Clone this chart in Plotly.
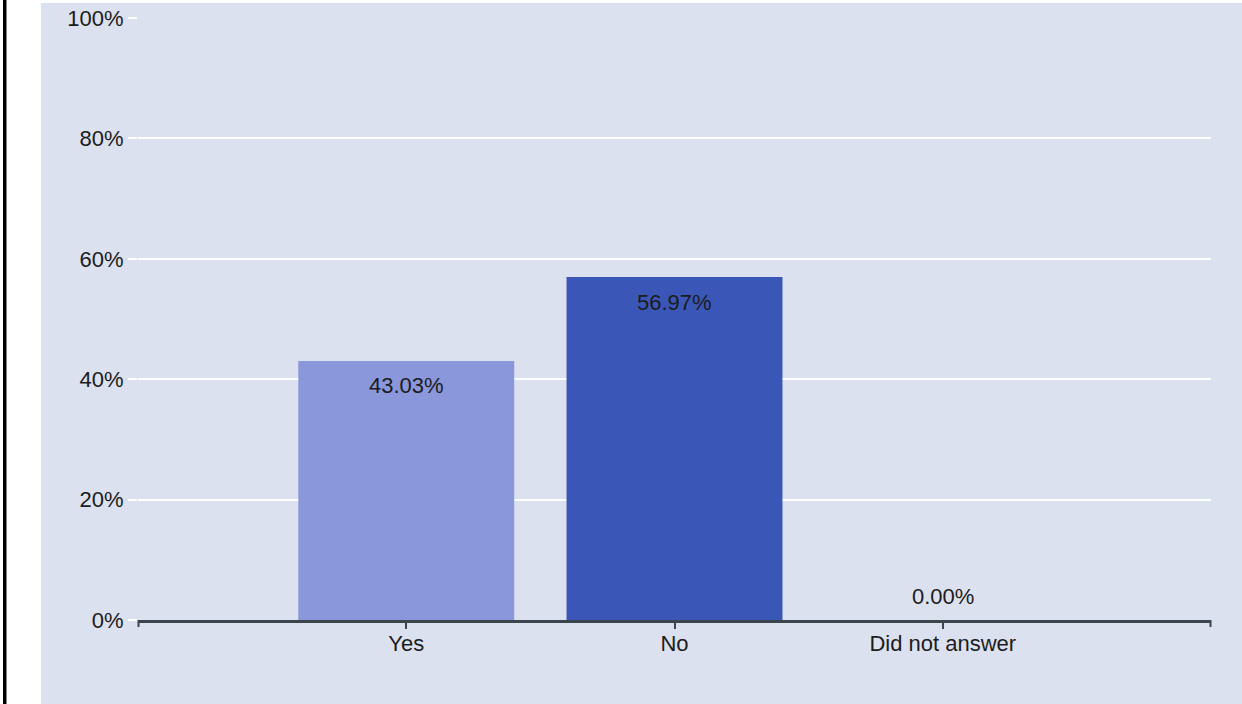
import plotly.graph_objects as go

categories = ["Yes", "No", "Did not answer"]
values = [43.03, 56.97, 0.00]
bar_colors = ["#8A97DB", "#3A56B7", "#3A56B7"]
y_ticks = [0, 20, 40, 60, 80, 100]
y_tick_labels = [f"{v}%" for v in y_ticks]

W, H = 1242, 704
L, R, T, B = 138, 1211, 18, 620  # plot area in pixels


def px_x(px):
    return (px - L) / (R - L)


def px_y(py):
    return (B - py) / (B - T)


fig = go.Figure()
fig.add_trace(go.Bar(
    x=categories, y=values,
    marker=dict(color=bar_colors, line=dict(width=0)),
    hoverinfo="skip",
))

font = dict(family="Liberation Sans, Arial, sans-serif", size=22, color="#1c1c1c")

annotations = []
for c, v in zip(categories, values):
    annotations.append(dict(
        x=c, y=v, xref="x", yref="y", text=f"{v:.2f}%", showarrow=False,
        yshift=-25 if v > 5 else 24, font=font,
    ))

shapes = [
    dict(type="rect", xref="paper", yref="paper", layer="below",
         x0=px_x(41), x1=px_x(1250), y0=px_y(720), y1=px_y(3),
         fillcolor="#DCE1EF", line=dict(width=0)),
    dict(type="rect", xref="paper", yref="paper", layer="above",
         x0=px_x(3), x1=px_x(6.5), y0=px_y(720), y1=px_y(-10),
         fillcolor="black", line=dict(width=0)),
    dict(type="line", xref="paper", yref="paper",
         x0=px_x(138.5), x1=px_x(138.5), y0=px_y(620), y1=px_y(627),
         line=dict(color="#3B454C", width=2)),
    dict(type="line", xref="paper", yref="paper",
         x0=px_x(1210.5), x1=px_x(1210.5), y0=px_y(620), y1=px_y(627),
         line=dict(color="#3B454C", width=2)),
]

fig.update_layout(
    template="none",
    width=W, height=H, autosize=False,
    margin=dict(l=L, r=W - R, t=T, b=H - B, pad=0, autoexpand=False),
    paper_bgcolor="white", plot_bgcolor="#DCE1EF",
    font=font, showlegend=False, bargap=0.195,
    annotations=annotations, shapes=shapes,
    xaxis=dict(
        type="category", range=[-1, 3], showgrid=False, zeroline=False,
        showline=True, linecolor="#3B454C", linewidth=3, automargin=False,
        ticks="outside", ticklen=6, tickwidth=2, tickcolor="#3B454C",
        ticklabelstandoff=-4, tickfont=font, fixedrange=True,
    ),
    yaxis=dict(
        range=[0, 100], tickmode="array", tickvals=y_ticks, ticktext=y_tick_labels,
        showgrid=True, gridcolor="white", gridwidth=1.5, zeroline=False,
        showline=False, ticks="outside", ticklen=9, tickcolor="white", automargin=False,
        tickwidth=1.5, tickfont=font, fixedrange=True,
    ),
)

fig.write_html(
    "out.html",
    config={"displayModeBar": False},
    post_script="document.body.style.margin='0';document.body.style.overflow='hidden';",
)
